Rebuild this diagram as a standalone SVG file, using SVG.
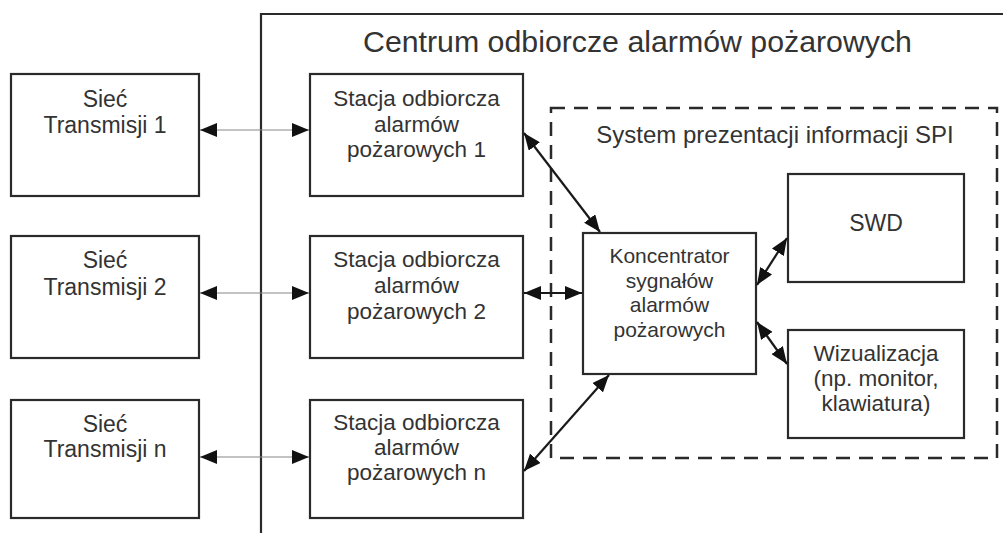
<svg xmlns="http://www.w3.org/2000/svg" width="1003" height="533" viewBox="0 0 1003 533">
<style>
.box{fill:#fff;stroke:#2a2a2a;stroke-width:2.2}
.frame{fill:none;stroke:#2a2a2a;stroke-width:2.2}
.dash{fill:none;stroke:#2a2a2a;stroke-width:2.5;stroke-dasharray:14 9}
.t{font-family:"Liberation Sans",Arial,sans-serif;fill:#333;text-anchor:middle}
.thin{stroke:#888;stroke-width:1.2;fill:none}
.thick{stroke:#1a1a1a;stroke-width:2.2;fill:none}
</style>
<defs>
<marker id="ah" markerUnits="userSpaceOnUse" markerWidth="18" markerHeight="14" refX="17" refY="7" orient="auto-start-reverse">
<path d="M0,0 L17,7 L0,14 z" fill="#111"/>
</marker>
<marker id="ak" markerUnits="userSpaceOnUse" markerWidth="18" markerHeight="14" refX="17" refY="7" orient="auto-start-reverse">
<path d="M0,0 L17,7 L0,14 z" fill="#111"/>
</marker>
</defs>
<rect width="1003" height="533" fill="#fff"/>
<g id="centrum">
<path class="frame" d="M261,533 V14 H1003"/>
<text class="t" x="637.5" y="52" font-size="30.3">Centrum odbiorcze alarmów pożarowych</text>
</g>
<g id="spi">
<rect class="dash" x="551" y="108" width="446" height="350"/>
<text class="t" x="775" y="143" font-size="24">System prezentacji informacji SPI</text>
</g>
<g id="siec1">
<rect class="box" x="11" y="74" width="188" height="122"/>
<text class="t" font-size="23" x="105" y="107">Sieć</text>
<text class="t" font-size="23" x="105" y="133">Transmisji 1</text>
</g>
<g id="siec2">
<rect class="box" x="11" y="236" width="188" height="122"/>
<text class="t" font-size="23" x="105" y="268">Sieć</text>
<text class="t" font-size="23" x="105" y="295">Transmisji 2</text>
</g>
<g id="siecn">
<rect class="box" x="11" y="400" width="188" height="118"/>
<text class="t" font-size="23" x="105" y="432">Sieć</text>
<text class="t" font-size="23" x="105" y="457">Transmisji n</text>
</g>
<g id="stacja1">
<rect class="box" x="310" y="74" width="213" height="122"/>
<text class="t" font-size="22.5" x="416.5" y="106">Stacja odbiorcza</text>
<text class="t" font-size="22.5" x="416.5" y="132">alarmów</text>
<text class="t" font-size="22.5" x="416.5" y="157">pożarowych 1</text>
</g>
<g id="stacja2">
<rect class="box" x="310" y="236" width="213" height="122"/>
<text class="t" font-size="22.5" x="416.5" y="267">Stacja odbiorcza</text>
<text class="t" font-size="22.5" x="416.5" y="293">alarmów</text>
<text class="t" font-size="22.5" x="416.5" y="319">pożarowych 2</text>
</g>
<g id="stacjan">
<rect class="box" x="310" y="400" width="213" height="118"/>
<text class="t" font-size="22.5" x="416.5" y="430">Stacja odbiorcza</text>
<text class="t" font-size="22.5" x="416.5" y="455">alarmów</text>
<text class="t" font-size="22.5" x="416.5" y="480">pożarowych n</text>
</g>
<g id="koncentrator">
<rect class="box" x="583" y="233" width="173" height="141"/>
<text class="t" font-size="21" x="669.5" y="263">Koncentrator</text>
<text class="t" font-size="21" x="669.5" y="288">sygnałów</text>
<text class="t" font-size="21" x="669.5" y="312">alarmów</text>
<text class="t" font-size="21" x="669.5" y="337">pożarowych</text>
</g>
<g id="swd">
<rect class="box" x="788" y="174" width="176" height="108"/>
<text class="t" font-size="23" x="876" y="231">SWD</text>
</g>
<g id="wizualizacja">
<rect class="box" x="788" y="330" width="176" height="108"/>
<text class="t" font-size="22.5" x="876" y="361">Wizualizacja</text>
<text class="t" font-size="22.5" x="876" y="386">(np. monitor,</text>
<text class="t" font-size="22.5" x="876" y="411">klawiatura)</text>
</g>
<g id="connectors">
<line class="thin" x1="200" y1="130" x2="309" y2="130" marker-start="url(#ah)" marker-end="url(#ah)"/>
<line class="thin" x1="200" y1="293" x2="309" y2="293" marker-start="url(#ah)" marker-end="url(#ah)"/>
<line class="thin" x1="200" y1="457" x2="309" y2="457" marker-start="url(#ah)" marker-end="url(#ah)"/>
<line class="thick" x1="524" y1="133" x2="600" y2="232" marker-start="url(#ak)" marker-end="url(#ak)"/>
<line class="thick" x1="524" y1="293" x2="582" y2="293" marker-start="url(#ak)" marker-end="url(#ak)"/>
<line class="thick" x1="524" y1="471" x2="609" y2="375" marker-start="url(#ak)" marker-end="url(#ak)"/>
<line class="thick" x1="757" y1="285" x2="787" y2="238" marker-start="url(#ak)" marker-end="url(#ak)"/>
<line class="thick" x1="757" y1="322" x2="787" y2="364" marker-start="url(#ak)" marker-end="url(#ak)"/>
</g>
</svg>
